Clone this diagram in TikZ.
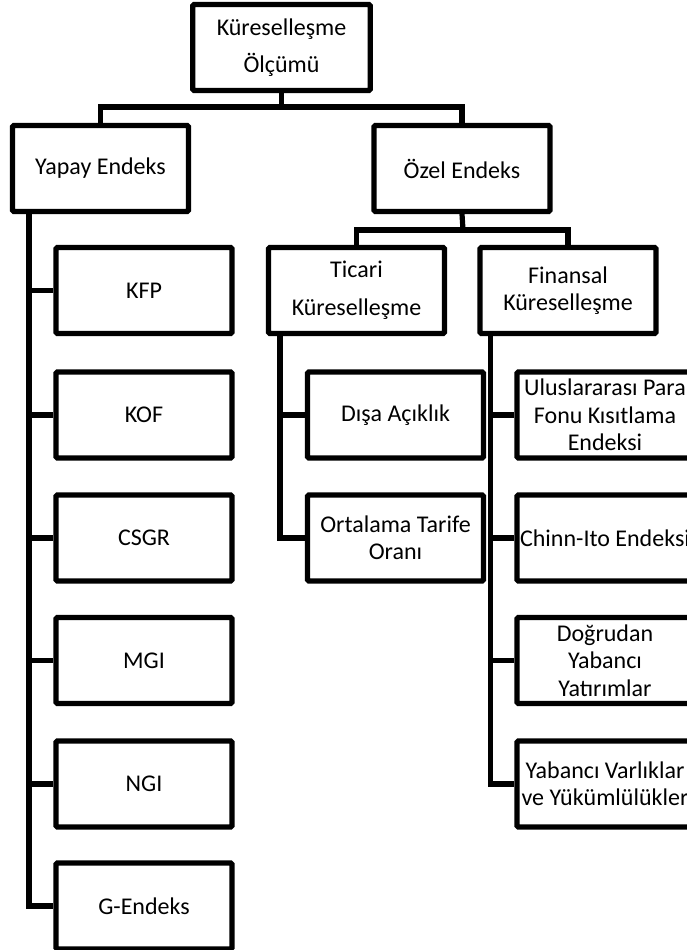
\documentclass[tikz,border=0pt]{standalone}
\usepackage{fontspec}
\setmainfont{Carlito}
\begin{document}
\begin{tikzpicture}[x=0.75pt,y=-0.75pt,
  box/.style={draw=black,line width=3.9pt,rounded corners=1pt,inner sep=0pt,
    minimum width=132pt,minimum height=64.5pt,align=center,
    font=\fontsize{18pt}{20.5pt}\selectfont},
  conn/.style={draw=black,line width=3.9pt}]
\useasboundingbox (0,0) rectangle (686,950);
% top levels
\node[box,minimum width=133pt] (top) at (281.5,47.5) {Küreselleşme\\[7pt]Ölçümü};
\node[box] (yapay) at (100.5,168.5) {Yapay Endeks};
\node[box] (ozel) at (462,168.5) {Özel Endeks};
\node[box] (ticari) at (356.5,290.5) {Ticari\\[8pt]Küreselleşme};
\node[box] (fin) at (568,290.5) {Finansal\\Küreselleşme};
% left column
\node[box] (kfp) at (144,290.5) {KFP};
\node[box] (kof) at (144,415) {KOF};
\node[box] (csgr) at (144,538) {CSGR};
\node[box] (mgi) at (144,660.5) {MGI};
\node[box] (ngi) at (144,784) {NGI};
\node[box] (gend) at (144,906) {G-Endeks};
% middle column
\node[box] (disa) at (395.5,415) {Dışa Açıklık};
\node[box] (orta) at (395.5,538) {Ortalama Tarife\\Oranı};
% right column
\node[box] (imf) at (605,415) {Uluslararası Para\\Fonu Kısıtlama\\Endeksi};
\node[box] (chinn) at (605,538) {Chinn-Ito Endeksi};
\node[box] (dyy) at (605,660.5) {Doğrudan\\Yabancı\\Yatırımlar};
\node[box] (yvy) at (605,784) {Yabancı Varlıklar\\ve Yükümlülükler};
% connectors
\coordinate (j1) at (281.5,107);
\coordinate (j2) at (463,230);
\draw[conn] (top.south) -- (j1);
\draw[conn] (yapay.north) |- (j1) -| (ozel.north);
\draw[conn] (ozel.south) -- (j2);
\draw[conn] (ticari.north) |- (j2) -| (fin.north);
% trunks
\coordinate (yt) at ([xshift=14.25pt]yapay.south west);
\coordinate (tt) at ([xshift=10.5pt]ticari.south west);
\coordinate (ft) at ([xshift=9.75pt]fin.south west);
\draw[conn] (yt) |- (gend.west);
\foreach \n in {kfp,kof,csgr,mgi,ngi} \draw[conn] (\n.west) -- (\n.west -| yt);
\draw[conn] (tt) |- (orta.west);
\draw[conn] (disa.west) -- (disa.west -| tt);
\draw[conn] (ft) |- (yvy.west);
\foreach \n in {imf,chinn,dyy} \draw[conn] (\n.west) -- (\n.west -| ft);
\end{tikzpicture}
\end{document}
